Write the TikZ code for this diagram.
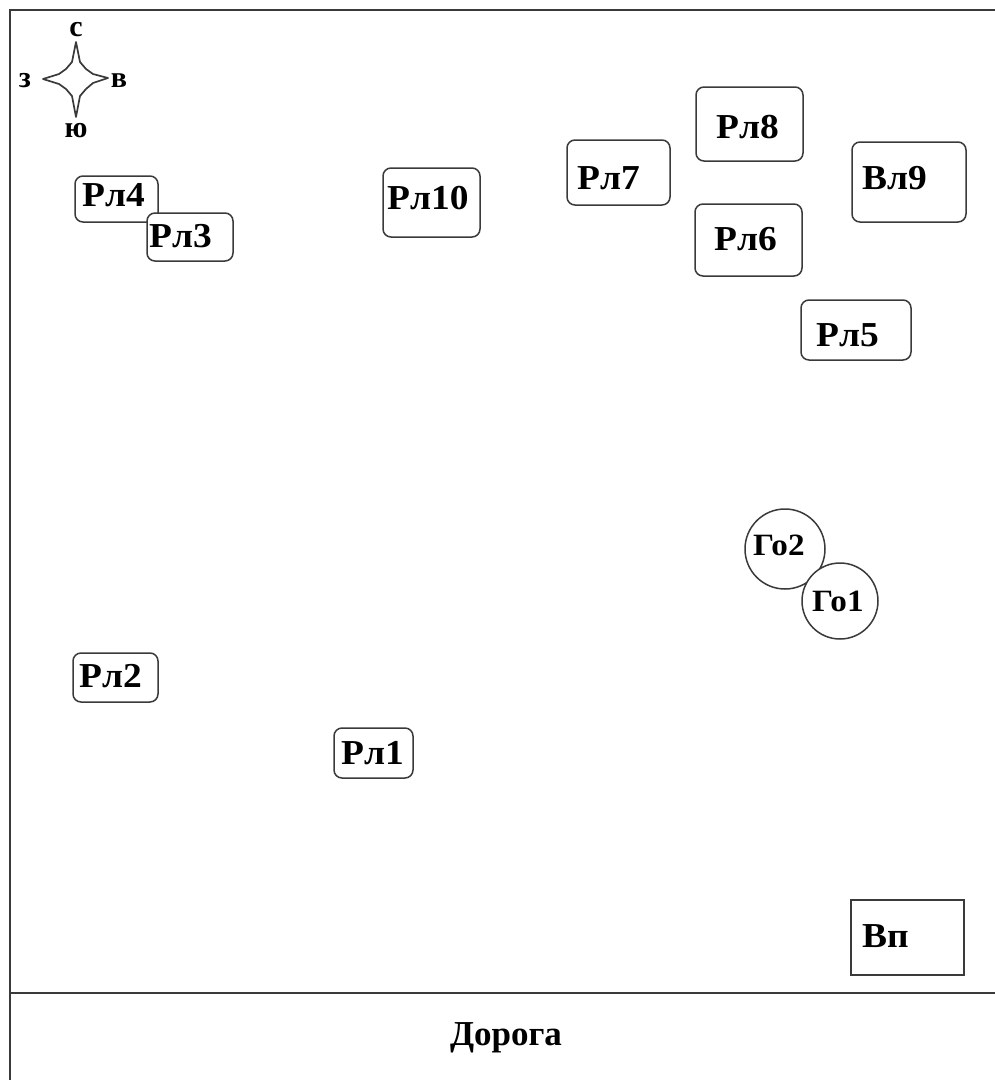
\documentclass[tikz,border=0pt]{standalone}
\usepackage{fontspec}
\setmainfont{Liberation Serif}
\definecolor{inkline}{HTML}{3A3A3A}
\begin{document}
\begin{tikzpicture}[x=1pt,y=-1pt,
  frame/.style={line width=1.6pt,draw=inkline},
  plot/.style={draw=inkline,line width=1.5pt,fill=white,rounded corners=8pt,inner sep=0pt,rectangle},
  sqbox/.style={draw=inkline,line width=1.5pt,fill=white,inner sep=0pt,rectangle},
  tree/.style={draw=inkline,line width=1.5pt,fill=white,inner sep=0pt,circle},
  lbl/.style={inner sep=0pt,anchor=base west,font=\bfseries\fontsize{35}{40}\selectfont},
  slbl/.style={inner sep=0pt,anchor=base west,font=\bfseries\fontsize{31}{36}\selectfont},
  cmp/.style={inner sep=0pt,anchor=base,font=\bfseries\fontsize{30}{34}\selectfont}]
\newcommand{\wide}[1]{\scalebox{1.07}[1]{#1}}
\useasboundingbox (0,0) rectangle (995,1080);

% site boundary and road edge
\draw[frame] (995,10) -- (10,10) -- (10,1080);
\draw[frame] (10,993) -- (995,993);
\node[cmp,anchor=base,font=\bfseries\fontsize{35}{40}\selectfont] (road) at (506,1045) {Дорога};

% compass rose
\coordinate (cN) at (76,42);
\coordinate (cS) at (76,117);
\coordinate (cW) at (43,79);
\coordinate (cE) at (108,78);
\draw[draw=inkline,line width=1.7pt,line join=round]
  (cN) -- (80,62) -- (86,69) -- (93,74) -- (cE)
  -- (93,83) -- (86,89) -- (80,96) -- (cS)
  -- (72,96) -- (66,89) -- (59,84) -- (cW)
  -- (59,74) -- (66,69) -- (72,62) -- cycle;
\node[cmp] (north) at (76,36) {с};
\node[cmp] (south) at (76,137) {ю};
\node[cmp] (west) at (25,87) {з};
\node[cmp] (east) at (119,87) {в};

% plots
\node[plot,minimum width=83pt,minimum height=46pt] (r4) at (116.5,199) {};
\node[lbl] (r4t) at (82,206) {\wide{Рл4}};
\node[plot,minimum width=86pt,minimum height=48pt] (r3) at (190,237) {};
\node[lbl] (r3t) at (149,247) {\wide{Рл3}};
\node[plot,minimum width=97pt,minimum height=69pt] (r10) at (431.5,202.5) {};
\node[lbl] (r10t) at (387,209) {\wide{Рл10}};
\node[plot,minimum width=103pt,minimum height=65pt] (r7) at (618.5,172.5) {};
\node[lbl] (r7t) at (577,189) {\wide{Рл7}};
\node[plot,minimum width=107pt,minimum height=74pt] (r8) at (749.5,124) {};
\node[lbl] (r8t) at (716,138) {\wide{Рл8}};
\node[plot,minimum width=107pt,minimum height=72pt] (r6) at (748.5,240) {};
\node[lbl] (r6t) at (714,250) {\wide{Рл6}};
\node[plot,minimum width=114pt,minimum height=80pt] (v9) at (909,182) {};
\node[lbl] (v9t) at (862,189) {\wide{Вл9}};
\node[plot,minimum width=110pt,minimum height=60pt] (r5) at (856,330) {};
\node[lbl] (r5t) at (816,346) {\wide{Рл5}};
\node[plot,minimum width=85pt,minimum height=49pt] (r2) at (115.5,677.5) {};
\node[lbl] (r2t) at (79,687) {\wide{Рл2}};
\node[plot,minimum width=79pt,minimum height=50pt] (r1) at (373.5,753) {};
\node[lbl] (r1t) at (341,764) {\wide{Рл1}};

% trees
\node[tree,minimum size=80pt] (g2) at (785,549) {};
\node[slbl] (g2t) at (753,555) {\wide{Го2}};
\node[tree,minimum size=76pt] (g1) at (840,601) {};
\node[slbl] (g1t) at (812,611) {\wide{Го1}};

% building
\node[sqbox,minimum width=113pt,minimum height=75pt] (vp) at (907.5,937.5) {};
\node[lbl] (vpt) at (862,947) {\wide{Вп}};
\end{tikzpicture}
\end{document}
